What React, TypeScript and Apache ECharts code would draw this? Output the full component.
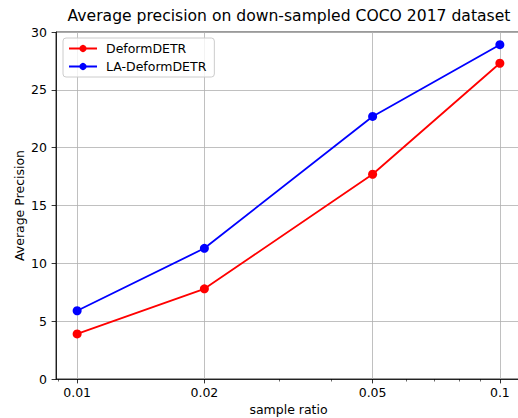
import React, { useEffect, useRef } from "react";
import * as echarts from "echarts";

const sampleRatios = [0.01, 0.02, 0.05, 0.1];
const deformDETR = [3.9, 7.8, 17.7, 27.3];
const laDeformDETR = [5.9, 11.3, 22.7, 28.9];
const xMajorTicks = [0.01, 0.02, 0.05, 0.1];
const xMinorTicks = [0.009, 0.03, 0.04, 0.06, 0.07, 0.08, 0.09];
const FONT = "DejaVu Sans";

export default function App() {
  const ref = useRef<HTMLDivElement>(null);
  useEffect(() => {
    if (!ref.current) return;
    const chart = echarts.init(ref.current, null, { renderer: "svg" });
    const xMin = Math.pow(10, -2.05);
    const xMax = Math.pow(10, -0.95);
    chart.setOption({
      animation: false,
      backgroundColor: "#ffffff",
      textStyle: { fontFamily: FONT },
      title: {
        text: "Average precision on down-sampled COCO 2017 dataset",
        left: 289,
        textAlign: "center",
        top: 8,
        padding: 0,
        textStyle: { fontFamily: FONT, fontSize: 15.6, fontWeight: "normal", color: "#000" },
      },
      legend: {
        left: 63,
        top: 38,
        orient: "vertical",
        backgroundColor: "rgba(255,255,255,0.8)",
        borderColor: "#cccccc",
        borderWidth: 1,
        borderRadius: 3,
        padding: [4, 8, 4, 5],
        itemGap: 5,
        itemWidth: 28,
        itemHeight: 9,
        textStyle: { fontFamily: FONT, fontSize: 12.5, color: "#000", padding: [0, 0, 0, 4] },
        data: ["DeformDETR", "LA-DeformDETR"],
      },
      grid: {
        left: 56,
        top: 32,
        right: -3,
        bottom: 39,
        show: true,
        borderColor: "#000",
        borderWidth: 0.8,
        containLabel: false,
        outerBoundsMode: "none",
      },
      xAxis: [
        {
          type: "log",
          logBase: 10,
          min: xMin,
          max: xMax,
          name: "sample ratio",
          nameLocation: "middle",
          nameGap: 24,
          nameMoveOverlap: false,
          nameTextStyle: { fontFamily: FONT, fontSize: 12.5, color: "#000" },
          axisLine: { show: true, lineStyle: { color: "#000", width: 0.8 } },
          axisTick: {
            show: true,
            inside: false,
            length: 4.4,
            customValues: xMajorTicks,
            lineStyle: { color: "#000", width: 0.8 },
          },
          axisLabel: {
            customValues: xMajorTicks,
            fontFamily: FONT,
            fontSize: 12.5,
            color: "#000",
            margin: 7,
            formatter: (v: number) => String(parseFloat(v.toPrecision(6))),
          },
          splitLine: { show: true, lineStyle: { color: "#b0b0b0", width: 0.8 } },
          minorTick: { show: false },
        },
        {
          type: "log",
          logBase: 10,
          min: xMin,
          max: xMax,
          position: "bottom",
          axisLine: { show: false },
          axisTick: {
            show: true,
            inside: false,
            length: 2.5,
            customValues: xMinorTicks,
            lineStyle: { color: "#000", width: 0.6 },
          },
          axisLabel: { show: false },
          splitLine: { show: false },
        },
      ],
      yAxis: {
        type: "value",
        min: 0,
        max: 30,
        interval: 5,
        name: "Average Precision",
        nameLocation: "middle",
        nameGap: 30,
        nameMoveOverlap: false,
        nameTextStyle: { fontFamily: FONT, fontSize: 12.5, color: "#000" },
        axisLine: { show: true, lineStyle: { color: "#000", width: 0.8 } },
        axisTick: { show: true, inside: false, length: 4.4, lineStyle: { color: "#000", width: 0.8 } },
        axisLabel: { fontFamily: FONT, fontSize: 12.5, color: "#000", margin: 9 },
        splitLine: { show: true, lineStyle: { color: "#b0b0b0", width: 0.8 } },
      },
      series: [
        {
          name: "DeformDETR",
          type: "line",
          xAxisIndex: 0,
          data: sampleRatios.map((x, i) => [x, deformDETR[i]]),
          symbol: "circle",
          symbolSize: 9,
          color: "#ff0000",
          lineStyle: { color: "#ff0000", width: 1.8 },
          itemStyle: { color: "#ff0000" },
        },
        {
          name: "LA-DeformDETR",
          type: "line",
          xAxisIndex: 0,
          data: sampleRatios.map((x, i) => [x, laDeformDETR[i]]),
          symbol: "circle",
          symbolSize: 9,
          color: "#0000ff",
          lineStyle: { color: "#0000ff", width: 1.8 },
          itemStyle: { color: "#0000ff" },
        },
      ],
    });
    return () => chart.dispose();
  }, []);
  return <div ref={ref} style={{ width: 518, height: 418, position: "absolute", left: 0, top: 0 }} />;
}
